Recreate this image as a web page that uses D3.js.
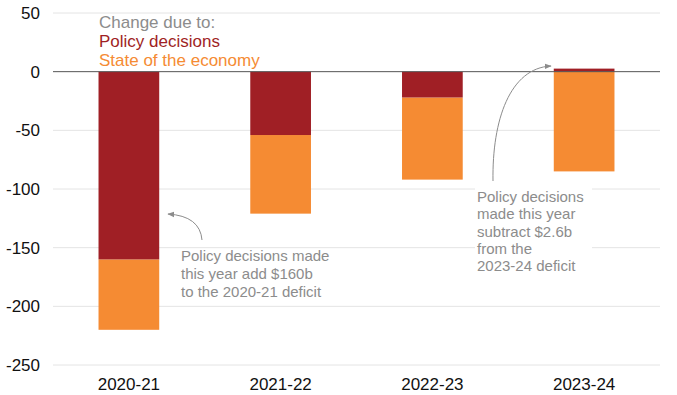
<!DOCTYPE html>
<html>
<head>
<meta charset="utf-8">
<script src="https://cdn.jsdelivr.net/npm/d3@7"></script>
<style>
    body { margin: 0; background: #fff; }
    svg text { font-family: "Liberation Sans", Arial, Helvetica, sans-serif; }
</style>
</head>
<body>
<div id="chart"></div>
<script>
const categories = ['2020-21', '2021-22', '2022-23', '2023-24'];
const policy = [-160, -54, -22, 2.6];
const economy = [-60, -67, -70, -85];
const yTicks = [50, 0, -50, -100, -150, -200, -250];

const legendLines = ['Change due to:', 'Policy decisions', 'State of the economy'];
const note1 = ['Policy decisions made', 'this year add $160b', 'to the 2020-21 deficit'];
const note2 = ['Policy decisions', 'made this year', 'subtract $2.6b', 'from the', '2023-24 deficit'];

const width = 677;
const height = 395;
const colors = { policy: '#a01f25', economy: '#f58b33', note: '#8c8c8c' };

const svg = d3.select('#chart').append('svg')
    .attr('width', width)
    .attr('height', height);

const x = d3.scaleBand()
    .domain(categories)
    .range([53, 660])
    .paddingInner(0.6)
    .paddingOuter(0.3);

const y = d3.scaleLinear()
    .domain([-250, 50])
    .range([365, 13]);

// arrow head
svg.append('defs').append('marker')
    .attr('id', 'arrow')
    .attr('viewBox', '0 0 10 10')
    .attr('refX', 9)
    .attr('refY', 5)
    .attr('markerWidth', 7)
    .attr('markerHeight', 7)
    .attr('orient', 'auto')
    .append('path')
    .attr('d', 'M0,1 L10,5 L0,9 Z')
    .attr('fill', '#8c8c8c');

// gridlines
svg.append('g')
    .selectAll('line')
    .data(yTicks.filter(d => d !== 0))
    .enter().append('line')
    .attr('x1', 53)
    .attr('x2', 660)
    .attr('y1', d => y(d))
    .attr('y2', d => y(d))
    .attr('stroke', '#e4e4e4')
    .attr('stroke-width', 1);

// y tick labels
svg.append('g')
    .selectAll('text')
    .data(yTicks)
    .enter().append('text')
    .attr('x', 40)
    .attr('y', d => y(d))
    .attr('dy', '0.35em')
    .attr('text-anchor', 'end')
    .attr('font-size', 17)
    .attr('fill', '#111')
    .text(d => d);

// white box behind second note
svg.append('rect')
    .attr('x', 475)
    .attr('y', 186)
    .attr('width', 117)
    .attr('height', 90)
    .attr('fill', '#fff');

// stacked bars: policy from zero, economy below
const rows = categories.map((c, i) => ({
    cat: c,
    p: policy[i],
    e: economy[i],
    base: Math.min(policy[i], 0)
}));

svg.append('g')
    .selectAll('rect.econ')
    .data(rows)
    .enter().append('rect')
    .attr('class', 'econ')
    .attr('x', d => x(d.cat))
    .attr('width', x.bandwidth())
    .attr('y', d => y(d.base))
    .attr('height', d => y(d.base + d.e) - y(d.base))
    .attr('fill', colors.economy);

svg.append('g')
    .selectAll('rect.pol')
    .data(rows)
    .enter().append('rect')
    .attr('class', 'pol')
    .attr('x', d => x(d.cat))
    .attr('width', x.bandwidth())
    .attr('y', d => y(Math.max(d.p, 0)))
    .attr('height', d => Math.abs(y(d.p) - y(0)))
    .attr('fill', colors.policy);

// zero line
svg.append('line')
    .attr('x1', 53)
    .attr('x2', 660)
    .attr('y1', y(0))
    .attr('y2', y(0))
    .attr('stroke', '#555')
    .attr('stroke-width', 1);

// x labels
svg.append('g')
    .selectAll('text')
    .data(categories)
    .enter().append('text')
    .attr('x', d => x(d) + x.bandwidth() / 2)
    .attr('y', 390)
    .attr('text-anchor', 'middle')
    .attr('font-size', 17)
    .attr('fill', '#111')
    .text(d => d);

// legend text
const legendColors = [colors.note, colors.policy, colors.economy];
svg.append('g')
    .selectAll('text')
    .data(legendLines)
    .enter().append('text')
    .attr('x', 99)
    .attr('y', (d, i) => 28 + i * 19)
    .attr('font-size', 17)
    .attr('fill', (d, i) => legendColors[i])
    .text(d => d);

// notes
svg.append('g')
    .selectAll('text')
    .data(note1)
    .enter().append('text')
    .attr('x', 181)
    .attr('y', (d, i) => 261 + i * 18)
    .attr('font-size', 15)
    .attr('fill', colors.note)
    .text(d => d);

svg.append('g')
    .selectAll('text')
    .data(note2)
    .enter().append('text')
    .attr('x', 477)
    .attr('y', (d, i) => 202 + i * 17.3)
    .attr('font-size', 15)
    .attr('fill', colors.note)
    .text(d => d);

// curved arrows
svg.append('path')
    .attr('d', 'M202,240 Q200,216 168,214')
    .attr('fill', 'none')
    .attr('stroke', colors.note)
    .attr('stroke-width', 1)
    .attr('marker-end', 'url(#arrow)');

svg.append('path')
    .attr('d', 'M493,181 C492,120 510,68 551,66')
    .attr('fill', 'none')
    .attr('stroke', colors.note)
    .attr('stroke-width', 1)
    .attr('marker-end', 'url(#arrow)');
</script>
</body>
</html>
